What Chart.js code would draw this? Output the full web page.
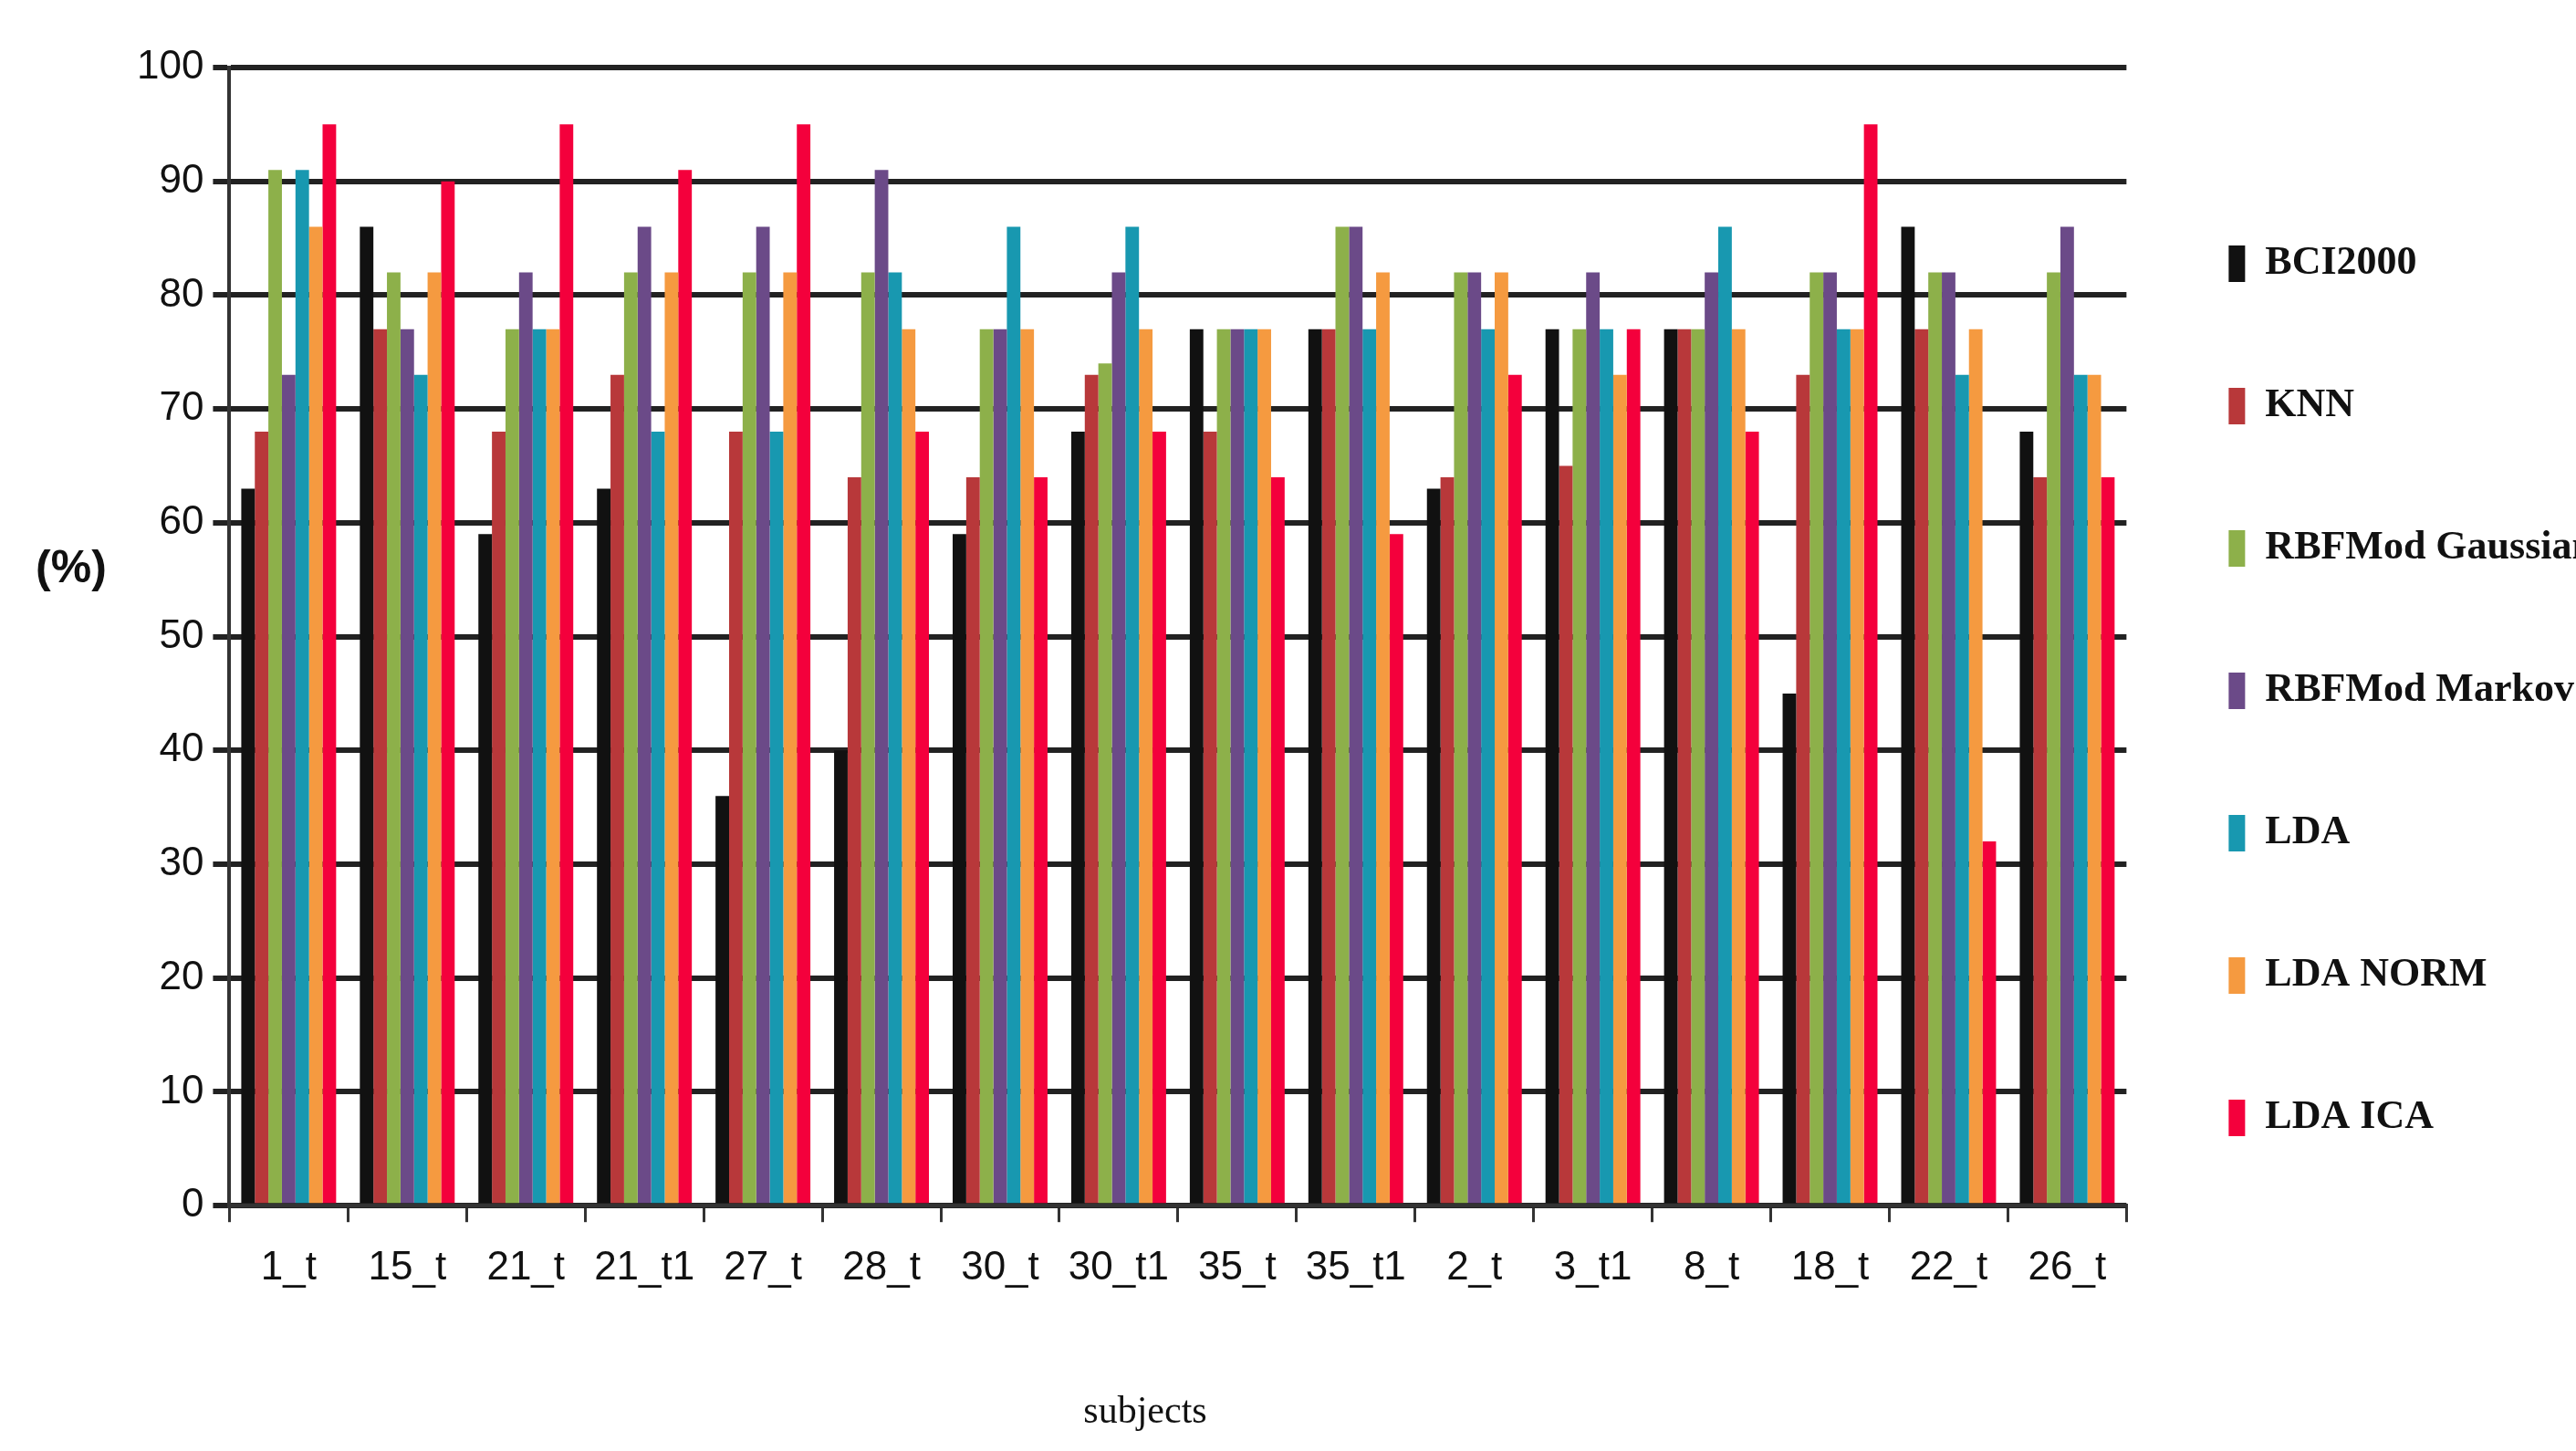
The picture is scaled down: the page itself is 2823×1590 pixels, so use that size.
<!DOCTYPE html>
<html><head><meta charset="utf-8">
<script src="https://cdn.jsdelivr.net/npm/chart.js@4/dist/chart.umd.min.js"></script>
<style>html,body{margin:0;padding:0;background:#fff}#w{width:2823px;height:1590px}</style>
</head><body><div id="w"><canvas id="c"></canvas></div>
<script>
const categories=["1_t","15_t","21_t","21_t1","27_t","28_t","30_t","30_t1","35_t","35_t1","2_t","3_t1","8_t","18_t","22_t","26_t"];
const seriesNames=["BCI2000","KNN","RBFMod Gaussian","RBFMod Markov","LDA","LDA NORM","LDA ICA"];
const bci2000=[63,86,59,63,36,40,59,68,77,77,63,77,77,45,86,68];
const knn=[68,77,68,73,68,64,64,73,68,77,64,65,77,73,77,64];
const rbfGauss=[91,82,77,82,82,82,77,74,77,86,82,77,77,82,82,82];
const rbfMarkov=[73,77,82,86,86,91,77,82,77,86,82,82,82,82,82,86];
const lda=[91,73,77,68,68,82,86,86,77,77,77,77,86,77,73,73];
const ldaNorm=[86,82,77,82,82,77,77,77,77,82,82,73,77,77,77,73];
const ldaIca=[95,90,95,91,95,68,64,68,64,59,73,77,68,95,32,64];
const yTicks=[0,10,20,30,40,50,60,70,80,90,100];
const colors=["#111111","#b8383a","#8db04a","#6b4a88","#1898b0","#f59a40","#f4003c"];
const all=[bci2000,knn,rbfGauss,rbfMarkov,lda,ldaNorm,ldaIca];
const tickFont={family:"'Liberation Sans Narrow','Liberation Sans',Arial",size:44};
const extra={id:'extra',afterDraw(ch){const c=ch.ctx;c.save();c.fillStyle='#111';
 c.font="bold 50px 'Liberation Sans',Arial";c.textAlign='center';c.textBaseline='middle';c.fillText('(%)',78,624);
 c.font="42px 'Liberation Serif','Times New Roman'";c.fillText('subjects',1255,1548);c.restore();}};
new Chart(document.getElementById('c'),{type:'bar',
data:{labels:categories,datasets:all.map((d,i)=>({label:seriesNames[i],data:d,backgroundColor:colors[i],borderWidth:0,categoryPercentage:0.8,barPercentage:1}))},
options:{responsive:true,maintainAspectRatio:false,animation:false,
 layout:{padding:{left:140,top:74,bottom:150,right:-30}},
 plugins:{tooltip:{enabled:false},legend:{position:'right',align:'center',
  labels:{color:'#111',boxWidth:18,boxHeight:40,padding:112,font:{family:"'Liberation Serif','Times New Roman'",size:44,weight:'bold'}}}},
 scales:{
  x:{offset:true,grid:{display:true,drawOnChartArea:false,offset:true,color:'#333',lineWidth:3,tickLength:18},border:{color:'#333',width:4},
     ticks:{color:'#111',font:tickFont,padding:24}},
  y:{min:0,max:100,afterBuildTicks(s){s.ticks=yTicks.map(v=>({value:v}));},
     grid:{color:'#222',lineWidth:6,tickLength:18},border:{color:'#333',width:4},
     ticks:{color:'#111',font:tickFont,padding:10}}}},
plugins:[extra]});
</script></body></html>
